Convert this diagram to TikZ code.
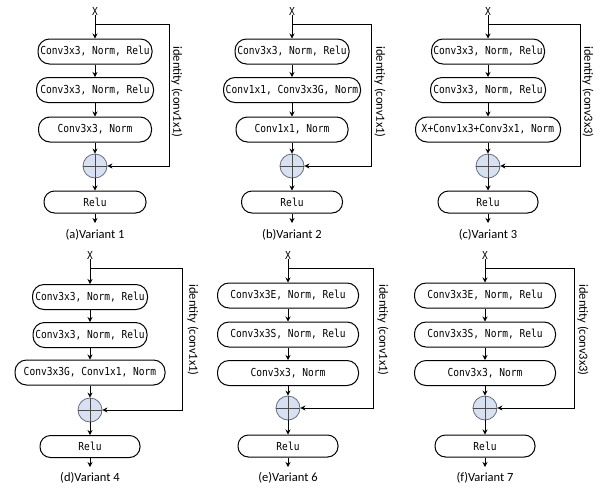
\documentclass[tikz,border=0pt]{standalone}
\usepackage{fontspec}
\setmainfont{Carlito}
\newfontfamily\boxfont[FakeStretch=0.87]{DejaVu Sans Mono}
\usetikzlibrary{arrows.meta}
\definecolor{circfill}{RGB}{216,225,242}
\definecolor{circline}{RGB}{100,110,130}
\tikzset{
 blk/.style={draw, line width=1pt, rounded corners=11.5pt, minimum height=25pt, inner sep=0pt, font=\boxfont\fontsize{11}{12}\selectfont},
 relubox/.style={blk, minimum height=22pt, rounded corners=10.5pt},
 arr/.style={-{Stealth[length=5pt,width=5pt]}, line width=1pt},
 sumnode/.style={circle, draw=circline, fill=circfill, minimum size=24pt, inner sep=0pt, line width=0.8pt},
 crossln/.style={draw=black!70, line width=0.6pt},
 xlab/.style={font=\boxfont\fontsize{11}{12}\selectfont, inner sep=0pt},
 captxt/.style={font=\fontsize{12.5}{14}\selectfont, inner sep=0pt},
 idlab/.style={font=\fontsize{12.5}{14}\selectfont, rotate=-90, inner sep=0pt},
}
\begin{document}
\begin{tikzpicture}[x=1pt,y=-1pt]
\useasboundingbox (0,0) rectangle (600,491);
% ---------- (a) ----------
\node[xlab] (xa) at (95,11) {X};
\coordinate (ja) at (95,24);
\node[blk, minimum width=114pt] (a1) at (95,51.5) {Conv3x3, Norm, Relu};
\node[blk, minimum width=117pt] (a2) at (95,90) {Conv3x3, Norm, Relu};
\node[blk, minimum width=113pt] (a3) at (95,129.5) {Conv3x3, Norm};
\node[sumnode] (pa) at (95,166) {};
\draw[crossln] (pa.north) -- (pa.south) (pa.west) -- (pa.east);
\node[relubox, minimum width=102pt] (ra) at (95,202) {Relu};
\coordinate (ea) at (95,223);
\node[captxt] (ca) at (95,235) {(a)Variant 1};
\coordinate (sa) at (169,166);
\node[idlab] (la) at (177,92) {identity (conv1x1)};
\draw[arr] (xa.south) -- (a1.north);
\draw[arr] (a1) -- (a2);
\draw[arr] (a2) -- (a3);
\draw[arr] (a3) -- (pa);
\draw[arr] (pa) -- (ra);
\draw[arr] (ra) -- (ea);
\draw[arr] (ja) -| (sa) -- (pa.east);
% ---------- (b) ----------
\node[xlab] (xb) at (292,11) {X};
\coordinate (jb) at (292,24);
\node[blk, minimum width=114pt] (b1) at (292,51.5) {Conv3x3, Norm, Relu};
\node[blk, minimum width=137pt] (b2) at (292,90) {Conv1x1, Conv3x3G, Norm};
\node[blk, minimum width=112pt] (b3) at (292,129.5) {Conv1x1, Norm};
\node[sumnode] (pb) at (292,166) {};
\draw[crossln] (pb.north) -- (pb.south) (pb.west) -- (pb.east);
\node[relubox, minimum width=101pt] (rb) at (292,202) {Relu};
\coordinate (eb) at (292,223);
\node[captxt] (cb) at (292,235) {(b)Variant 2};
\coordinate (sb) at (371,166);
\node[idlab] (lb) at (380,92) {identity (conv1x1)};
\draw[arr] (xb.south) -- (b1.north);
\draw[arr] (b1) -- (b2);
\draw[arr] (b2) -- (b3);
\draw[arr] (b3) -- (pb);
\draw[arr] (pb) -- (rb);
\draw[arr] (rb) -- (eb);
\draw[arr] (jb) -| (sb) -- (pb.east);
% ---------- (c) ----------
\node[xlab] (xc) at (488,11) {X};
\coordinate (jc) at (488,24);
\node[blk, minimum width=113pt] (c1) at (488,51.5) {Conv3x3, Norm, Relu};
\node[blk, minimum width=115pt] (c2) at (488,90) {Conv3x3, Norm, Relu};
\node[blk, minimum width=145pt] (c3) at (488,129.5) {X+Conv1x3+Conv3x1, Norm};
\node[sumnode] (pc) at (488,166) {};
\draw[crossln] (pc.north) -- (pc.south) (pc.west) -- (pc.east);
\node[relubox, minimum width=100pt] (rc) at (488,202) {Relu};
\coordinate (ec) at (488,223);
\node[captxt] (cc) at (488,235) {(c)Variant 3};
\coordinate (sc) at (580,166);
\node[idlab] (lc) at (588,92) {identity (conv3x3)};
\draw[arr] (xc.south) -- (c1.north);
\draw[arr] (c1) -- (c2);
\draw[arr] (c2) -- (c3);
\draw[arr] (c3) -- (pc);
\draw[arr] (pc) -- (rc);
\draw[arr] (rc) -- (ec);
\draw[arr] (jc) -| (sc) -- (pc.east);
% ---------- (d) ----------
\node[xlab] (xd) at (90,255) {X};
\coordinate (jd) at (90,268);
\node[blk, minimum width=115pt] (d1) at (90,297) {Conv3x3, Norm, Relu};
\node[blk, minimum width=114pt] (d2) at (90,335) {Conv3x3, Norm, Relu};
\node[blk, minimum width=150pt] (d3) at (90,372.5) {Conv3x3G, Conv1x1, Norm};
\node[sumnode] (pd) at (90,410) {};
\draw[crossln] (pd.north) -- (pd.south) (pd.west) -- (pd.east);
\node[relubox, minimum width=100pt] (rd) at (90,446.5) {Relu};
\coordinate (ed) at (90,467);
\node[captxt] (cd) at (90,478) {(d)Variant 4};
\coordinate (sd) at (182,410);
\node[idlab] (ld) at (193,330) {identity (conv1x1)};
\draw[arr] (xd.south) -- (d1.north);
\draw[arr] (d1) -- (d2);
\draw[arr] (d2) -- (d3);
\draw[arr] (d3) -- (pd);
\draw[arr] (pd) -- (rd);
\draw[arr] (rd) -- (ed);
\draw[arr] (jd) -| (sd) -- (pd.east);
% ---------- (e) ----------
\node[xlab] (xe) at (288,255) {X};
\coordinate (je) at (288,268);
\node[blk, minimum width=141pt] (e1) at (288,295.5) {Conv3x3E, Norm, Relu};
\node[blk, minimum width=141pt] (e2) at (288,334.5) {Conv3x3S, Norm, Relu};
\node[blk, minimum width=141pt] (e3) at (288,373) {Conv3x3, Norm};
\node[sumnode] (pe) at (288,408) {};
\draw[crossln] (pe.north) -- (pe.south) (pe.west) -- (pe.east);
\node[relubox, minimum width=100pt] (re) at (288,446) {Relu};
\coordinate (ee) at (288,467);
\node[captxt] (ce) at (288,478) {(e)Variant 6};
\coordinate (se) at (373,408);
\node[idlab] (le) at (383,330) {identity (conv1x1)};
\draw[arr] (xe.south) -- (e1.north);
\draw[arr] (e1) -- (e2);
\draw[arr] (e2) -- (e3);
\draw[arr] (e3) -- (pe);
\draw[arr] (pe) -- (re);
\draw[arr] (re) -- (ee);
\draw[arr] (je) -| (se) -- (pe.east);
% ---------- (f) ----------
\node[xlab] (xf) at (485,255) {X};
\coordinate (jf) at (485,268);
\node[blk, minimum width=141pt] (f1) at (485,295.5) {Conv3x3E, Norm, Relu};
\node[blk, minimum width=141pt] (f2) at (485,334.5) {Conv3x3S, Norm, Relu};
\node[blk, minimum width=141pt] (f3) at (485,373) {Conv3x3, Norm};
\node[sumnode] (pf) at (485,408) {};
\draw[crossln] (pf.north) -- (pf.south) (pf.west) -- (pf.east);
\node[relubox, minimum width=100pt] (rf) at (485,446) {Relu};
\coordinate (ef) at (485,467);
\node[captxt] (cf) at (485,478) {(f)Variant 7};
\coordinate (sf) at (574,408);
\node[idlab] (lf) at (583,330) {identity (conv3x3)};
\draw[arr] (xf.south) -- (f1.north);
\draw[arr] (f1) -- (f2);
\draw[arr] (f2) -- (f3);
\draw[arr] (f3) -- (pf);
\draw[arr] (pf) -- (rf);
\draw[arr] (rf) -- (ef);
\draw[arr] (jf) -| (sf) -- (pf.east);
\end{tikzpicture}
\end{document}
